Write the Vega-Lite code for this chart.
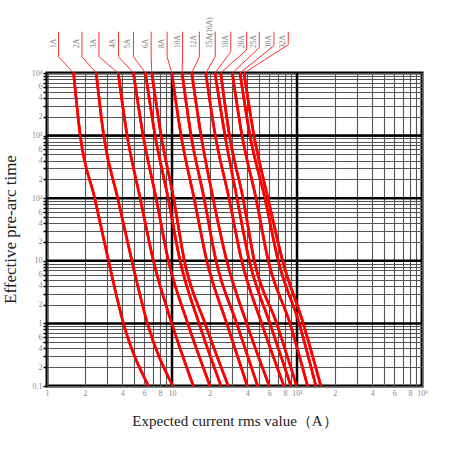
{
  "$schema": "https://vega.github.io/schema/vega-lite/v6.json",
  "width": 375,
  "height": 313,
  "autosize": {"type": "none"},
  "padding": {"left": 47, "top": 73, "right": 28, "bottom": 64},
  "background": "white",
  "config": {"view": {"stroke": "black", "strokeWidth": 3}},
  "datasets": {
    "curves": [
      {"c":"1A","I":1.632,"t":10000},{"c":"1A","I":1.845,"t":1000},{"c":"1A","I":2.41,"t":100},{"c":"1A","I":3.105,"t":10},{"c":"1A","I":4.09,"t":1},{"c":"1A","I":6.48,"t":0.1},
      {"c":"2A","I":2.476,"t":10000},{"c":"2A","I":2.842,"t":1000},{"c":"2A","I":3.678,"t":100},{"c":"2A","I":4.775,"t":10},{"c":"2A","I":6.36,"t":1},{"c":"2A","I":10.15,"t":0.1},
      {"c":"3A","I":3.712,"t":10000},{"c":"3A","I":4.378,"t":1000},{"c":"3A","I":5.564,"t":100},{"c":"3A","I":7.1,"t":10},{"c":"3A","I":9.96,"t":1},{"c":"3A","I":14.82,"t":0.1},
      {"c":"4A","I":4.917,"t":10000},{"c":"4A","I":5.877,"t":1000},{"c":"4A","I":7.464,"t":100},{"c":"4A","I":9.36,"t":10},{"c":"4A","I":13.37,"t":1},{"c":"4A","I":20.15,"t":0.1},
      {"c":"5A","I":6.132,"t":10000},{"c":"5A","I":7.328,"t":1000},{"c":"5A","I":9.31,"t":100},{"c":"5A","I":11.6,"t":10},{"c":"5A","I":16.46,"t":1},{"c":"5A","I":24.68,"t":0.1},
      {"c":"6A","I":6.9,"t":10000},{"c":"6A","I":8.184,"t":1000},{"c":"6A","I":10.3,"t":100},{"c":"6A","I":12.56,"t":10},{"c":"6A","I":18.38,"t":1},{"c":"6A","I":28.2,"t":0.1},
      {"c":"8A","I":9.96,"t":10000},{"c":"8A","I":11.82,"t":1000},{"c":"8A","I":15.01,"t":100},{"c":"8A","I":18.97,"t":10},{"c":"8A","I":27.4,"t":1},{"c":"8A","I":40.03,"t":0.1},
      {"c":"10A","I":12.04,"t":10000},{"c":"10A","I":14.21,"t":1000},{"c":"10A","I":18.05,"t":100},{"c":"10A","I":22.5,"t":10},{"c":"10A","I":32.93,"t":1},{"c":"10A","I":48.44,"t":0.1},
      {"c":"12A","I":14.39,"t":10000},{"c":"12A","I":17.08,"t":1000},{"c":"12A","I":21.3,"t":100},{"c":"12A","I":27.4,"t":10},{"c":"12A","I":39.58,"t":1},{"c":"12A","I":59.98,"t":0.1},
      {"c":"15A","I":18.62,"t":10000},{"c":"15A","I":22.21,"t":1000},{"c":"15A","I":28.58,"t":100},{"c":"15A","I":36.1,"t":10},{"c":"15A","I":52.17,"t":1},{"c":"15A","I":78.6,"t":0.1},
      {"c":"18A","I":22.1,"t":10000},{"c":"18A","I":26.56,"t":1000},{"c":"18A","I":33.11,"t":100},{"c":"18A","I":41.52,"t":10},{"c":"18A","I":60.74,"t":1},{"c":"18A","I":89.4,"t":0.1},
      {"c":"20A","I":24.54,"t":10000},{"c":"20A","I":28.85,"t":1000},{"c":"20A","I":36.98,"t":100},{"c":"20A","I":45.51,"t":10},{"c":"20A","I":68.72,"t":1},{"c":"20A","I":99.3,"t":0.1},
      {"c":"25A","I":30.37,"t":10000},{"c":"25A","I":36.31,"t":1000},{"c":"25A","I":46.95,"t":100},{"c":"25A","I":58.9,"t":10},{"c":"25A","I":87.8,"t":1},{"c":"25A","I":121.5,"t":0.1},
      {"c":"30A","I":34.99,"t":10000},{"c":"30A","I":42.05,"t":1000},{"c":"30A","I":55.4,"t":100},{"c":"30A","I":70.75,"t":10},{"c":"30A","I":104.1,"t":1},{"c":"30A","I":141.6,"t":0.1},
      {"c":"32A","I":37.66,"t":10000},{"c":"32A","I":45.27,"t":1000},{"c":"32A","I":58.57,"t":100},{"c":"32A","I":76.74,"t":10},{"c":"32A","I":112.1,"t":1},{"c":"32A","I":155.2,"t":0.1}
    ],
    "leaders": [
      {"c":"1A","k":0,"I":1.238,"t":45700},{"c":"1A","k":1,"I":1.238,"t":18200},{"c":"1A","k":2,"I":1.632,"t":10000},
      {"c":"2A","k":0,"I":1.904,"t":45700},{"c":"2A","k":1,"I":1.904,"t":18200},{"c":"2A","k":2,"I":2.476,"t":10000},
      {"c":"3A","k":0,"I":2.602,"t":45700},{"c":"3A","k":1,"I":2.602,"t":18200},{"c":"3A","k":2,"I":3.712,"t":10000},
      {"c":"4A","k":0,"I":3.732,"t":45700},{"c":"4A","k":1,"I":3.732,"t":18200},{"c":"4A","k":2,"I":4.917,"t":10000},
      {"c":"5A","k":0,"I":4.917,"t":45700},{"c":"5A","k":1,"I":4.917,"t":18200},{"c":"5A","k":2,"I":6.132,"t":10000},
      {"c":"6A","k":0,"I":6.81,"t":45700},{"c":"6A","k":1,"I":6.81,"t":18200},{"c":"6A","k":2,"I":6.9,"t":10000},
      {"c":"8A","k":0,"I":9.14,"t":45700},{"c":"8A","k":1,"I":9.14,"t":18200},{"c":"8A","k":2,"I":9.96,"t":10000},
      {"c":"10A","k":0,"I":12.15,"t":45700},{"c":"10A","k":1,"I":12.15,"t":18200},{"c":"10A","k":2,"I":12.04,"t":10000},
      {"c":"12A","k":0,"I":16.55,"t":45700},{"c":"12A","k":1,"I":16.55,"t":18200},{"c":"12A","k":2,"I":14.39,"t":10000},
      {"c":"15A","k":0,"I":22.17,"t":45700},{"c":"15A","k":1,"I":22.17,"t":18200},{"c":"15A","k":2,"I":18.62,"t":10000},
      {"c":"18A","k":0,"I":29.54,"t":45700},{"c":"18A","k":1,"I":29.54,"t":21900},{"c":"18A","k":2,"I":22.1,"t":10000},
      {"c":"20A","k":0,"I":39.58,"t":45700},{"c":"20A","k":1,"I":39.58,"t":23500},{"c":"20A","k":2,"I":24.54,"t":10000},
      {"c":"25A","k":0,"I":49.9,"t":45700},{"c":"25A","k":1,"I":49.9,"t":25400},{"c":"25A","k":2,"I":30.37,"t":10000},
      {"c":"30A","k":0,"I":65.4,"t":45700},{"c":"30A","k":1,"I":65.4,"t":27300},{"c":"30A","k":2,"I":34.99,"t":10000},
      {"c":"32A","k":0,"I":85.1,"t":45700},{"c":"32A","k":1,"I":85.1,"t":28300},{"c":"32A","k":2,"I":37.66,"t":10000}
    ],
    "labels": [
      {"label":"1A","I":1.238,"t":25000},{"label":"2A","I":1.904,"t":25000},{"label":"3A","I":2.602,"t":25000},
      {"label":"4A","I":3.732,"t":25000},{"label":"5A","I":4.917,"t":25000},{"label":"6A","I":6.81,"t":25000},
      {"label":"8A","I":9.14,"t":25000},{"label":"10A","I":12.15,"t":25000},{"label":"12A","I":16.55,"t":25000},
      {"label":"15A(16A)","I":22.17,"t":25000},{"label":"18A","I":29.54,"t":25000},{"label":"20A","I":39.58,"t":25000},
      {"label":"25A","I":49.9,"t":25000},{"label":"30A","I":65.4,"t":25000},{"label":"32A","I":85.1,"t":25000}
    ],
    "decX": [{"I":10},{"I":100}],
    "decY": [{"t":1},{"t":10},{"t":100},{"t":1000}]
  },
  "layer": [
    {
      "data": {"name": "curves"},
      "mark": {"type": "line", "color": "#ff0000", "strokeWidth": 2.6, "interpolate": "monotone"},
      "encoding": {
        "x": {
          "field": "I", "type": "quantitative",
          "scale": {"type": "log", "domain": [1, 1000], "nice": false},
          "axis": {
            "title": "Expected current rms value（A）",
            "titleFont": "Liberation Serif", "titleFontSize": 15, "titleFontWeight": "normal", "titleColor": "#222",
            "titleY": 34, "titleBaseline": "middle",
            "values": [1,2,3,4,5,6,7,8,9,10,20,30,40,50,60,70,80,90,100,200,300,400,500,600,700,800,900,1000],
            "labelExpr": "datum.value==1?'1':datum.value==10?'10':datum.value==100?'10²':datum.value==1000?'10³':(indexof([2,4,6,8], round(datum.value/pow(10,floor(log(datum.value)/LN10+1e-9))))>=0?''+round(datum.value/pow(10,floor(log(datum.value)/LN10+1e-9))):'')",
            "labelFont": "Liberation Serif", "labelFontSize": 8, "labelColor": "#888",
            "labelPadding": 3, "labelFlush": false, "labelOverlap": false,
            "ticks": false, "domain": false,
            "grid": true, "gridColor": "#555", "gridWidth": 1.1,
            "encode": {"labels": {"update": {"dy": {"signal": "indexof([1,10,100,1000], datum.value)>=0 ? 5 : 0"}}}}
          }
        },
        "y": {
          "field": "t", "type": "quantitative",
          "scale": {"type": "log", "domain": [0.1, 10000], "nice": false},
          "axis": {
            "title": "Effective pre-arc time",
            "titleFont": "Liberation Serif", "titleFontSize": 17, "titleFontWeight": "normal", "titleColor": "#222",
            "titleAngle": 270, "titleX": -37, "titleY": 156, "titleAlign": "center", "titleBaseline": "middle",
            "values": [0.1,0.2,0.3,0.4,0.5,0.6,0.7,0.8,0.9,1,2,3,4,5,6,7,8,9,10,20,30,40,50,60,70,80,90,100,200,300,400,500,600,700,800,900,1000,2000,3000,4000,5000,6000,7000,8000,9000,10000],
            "labelExpr": "datum.value==0.1?'0.1':datum.value==1?'1':datum.value==10?'10':datum.value==100?'10²':datum.value==1000?'10³':datum.value==10000?'10⁴':(indexof([2,4,6], round(datum.value/pow(10,floor(log(datum.value)/LN10+1e-9))))>=0?''+round(datum.value/pow(10,floor(log(datum.value)/LN10+1e-9))):'')",
            "labelFont": "Liberation Serif", "labelFontSize": 8, "labelColor": "#888",
            "labelPadding": 1, "labelFlush": false, "labelOverlap": false,
            "ticks": true, "tickSize": 4, "tickColor": "#000", "tickWidth": 1.5, "domain": false,
            "grid": true, "gridColor": "#555", "gridWidth": 1.1,
            "encode": {"labels": {"update": {"dx": {"signal": "indexof([0.1,1,10,100,1000,10000], datum.value)>=0 ? -4 : 0"}}}}
          }
        },
        "detail": {"field": "c"}
      }
    },
    {
      "data": {"name": "decX"},
      "mark": {"type": "rule", "color": "#000", "strokeWidth": 2.5},
      "encoding": {"x": {"field": "I", "type": "quantitative"}}
    },
    {
      "data": {"name": "decY"},
      "mark": {"type": "rule", "color": "#000", "strokeWidth": 2.5},
      "encoding": {"y": {"field": "t", "type": "quantitative"}}
    },
    {
      "data": {"name": "curves"},
      "mark": {"type": "line", "color": "#ff0000", "strokeWidth": 2.6, "interpolate": "monotone"},
      "encoding": {
        "x": {"field": "I", "type": "quantitative"},
        "y": {"field": "t", "type": "quantitative"},
        "detail": {"field": "c"}
      }
    },
    {
      "data": {"name": "leaders"},
      "mark": {"type": "line", "color": "#ff3030", "strokeWidth": 1, "clip": false},
      "encoding": {
        "x": {"field": "I", "type": "quantitative"},
        "y": {"field": "t", "type": "quantitative"},
        "detail": {"field": "c"},
        "order": {"field": "k"}
      }
    },
    {
      "data": {"name": "labels"},
      "mark": {"type": "text", "angle": 270, "align": "left", "baseline": "bottom", "dy": -1, "font": "Liberation Serif", "fontSize": 7.5, "color": "#777"},
      "encoding": {
        "x": {"field": "I", "type": "quantitative"},
        "y": {"field": "t", "type": "quantitative"},
        "text": {"field": "label"}
      }
    }
  ]
}
